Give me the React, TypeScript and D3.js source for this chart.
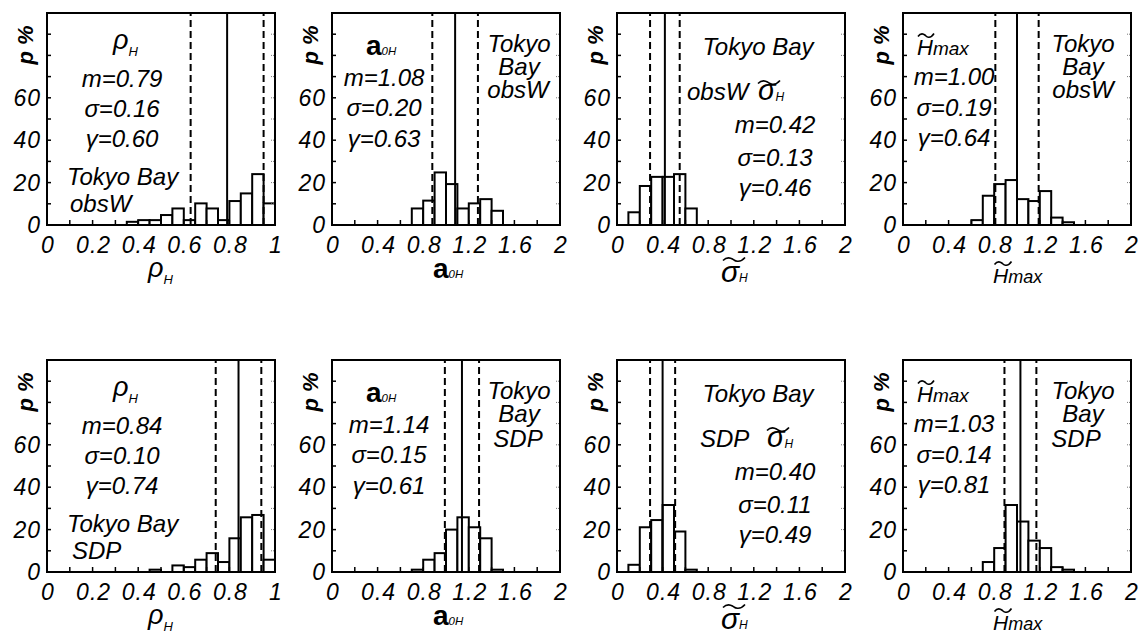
import React from 'react';
import * as d3 from 'd3';

// ---------- data ----------
const rhoObsBins = [0.35, 0.4, 0.45, 0.5, 0.55, 0.6, 0.65, 0.7, 0.75, 0.8, 0.85, 0.9, 0.95];
const rhoObsPct = [1.5, 2.3, 2.3, 4.7, 7.8, 2.3, 10.2, 7.8, 2.3, 11.3, 14.9, 24.0, 10.2];
const aObsBins = [0.7, 0.8, 0.9, 1.0, 1.1, 1.2, 1.3, 1.4];
const aObsPct = [7.8, 11.5, 24.8, 19.3, 7.8, 10.2, 12.2, 6.7];
const sigObsBins = [0.1, 0.2, 0.3, 0.4, 0.5, 0.6];
const sigObsPct = [6.0, 18.4, 22.7, 22.7, 24.0, 7.8];
const hObsBins = [0.6, 0.7, 0.8, 0.9, 1.0, 1.1, 1.2, 1.3, 1.4];
const hObsPct = [2.3, 13.8, 19.3, 21.2, 12.2, 11.3, 16.0, 3.5, 1.3];

const rhoSdpBins = [0.45, 0.5, 0.55, 0.6, 0.65, 0.7, 0.75, 0.8, 0.85, 0.9, 0.95];
const rhoSdpPct = [1.1, 0, 3.1, 2.3, 5.8, 8.9, 4.7, 15.9, 25.8, 26.9, 5.8];
const aSdpBins = [0.7, 0.8, 0.9, 1.0, 1.1, 1.2, 1.3, 1.4];
const aSdpPct = [1.1, 5.8, 8.9, 20.0, 25.8, 21.1, 15.9, 1.1];
const sigSdpBins = [0.1, 0.2, 0.3, 0.4, 0.5, 0.6];
const sigSdpPct = [3.4, 21.1, 24.5, 31.6, 19.1, 1.1];
const hSdpBins = [0.7, 0.8, 0.9, 1.0, 1.1, 1.2, 1.3, 1.4];
const hSdpPct = [4.7, 11.3, 31.6, 23.8, 14.8, 11.3, 2.3, 1.1];

// stats: mean, std, gamma
const obsM = [0.79, 1.08, 0.42, 1.0];
const obsS = [0.16, 0.2, 0.13, 0.19];
const obsG = [0.6, 0.63, 0.46, 0.64];
const sdpM = [0.84, 1.14, 0.4, 1.03];
const sdpS = [0.1, 0.15, 0.11, 0.14];
const sdpG = [0.74, 0.61, 0.49, 0.81];

const sites = ['obsW', 'SDP'];
const kinds = ['rho', 'a', 'sig', 'h'];
const xMaxes = [1, 2, 2, 2];
const binWidths = [0.05, 0.1, 0.1, 0.1];
const minorSteps = [0.1, 0.2, 0.2, 0.2];
const labelSteps = [0.2, 0.4, 0.4, 0.4];
const yTickLabels = [0, 20, 40, 60];

const binsByRow = [
  [rhoObsBins, aObsBins, sigObsBins, hObsBins],
  [rhoSdpBins, aSdpBins, sigSdpBins, hSdpBins],
];
const pctByRow = [
  [rhoObsPct, aObsPct, sigObsPct, hObsPct],
  [rhoSdpPct, aSdpPct, sigSdpPct, hSdpPct],
];
const mByRow = [obsM, sdpM];
const sByRow = [obsS, sdpS];
const gByRow = [obsG, sdpG];

// ---------- layout ----------
const W = 228;
const H = 212;
const lefts = [47, 332, 617, 903];
const tops = [13, 360];
const FONT = '"Liberation Sans", Arial, Helvetica, sans-serif';
const fmt2 = (v: number) => v.toFixed(2);
const fmtTick = (v: number) => String(+v.toFixed(1));

function tilde(cx: number, cy: number, w: number) {
  const h = w / 2;
  return `M${cx - h} ${cy + 1.5} C ${cx - h / 2} ${cy - 4}, ${cx} ${cy + 1}, ${cx} ${cy + 1} S ${cx + h / 2} ${cy + 5}, ${cx + h} ${cy - 1.5}`;
}

const T24 = { fontFamily: FONT, fontStyle: 'italic', fontSize: 24 } as const;

function Stats({ x, ys, m, s, g, anchor }: any) {
  return (
    <g style={T24} textAnchor={anchor}>
      <text x={x} y={ys[0]}>{`m=${fmt2(m)}`}</text>
      <text x={x} y={ys[1]}>{`σ=${fmt2(s)}`}</text>
      <text x={x} y={ys[2]}>{`γ=${fmt2(g)}`}</text>
    </g>
  );
}

function Panel({ row, col }: { row: number; col: number }) {
  const L = lefts[col];
  const T = tops[row];
  const xMax = xMaxes[col];
  const bw = binWidths[col];
  const bins = binsByRow[row][col];
  const pct = pctByRow[row][col];
  const m = mByRow[row][col];
  const s = sByRow[row][col];
  const g = gByRow[row][col];
  const site = sites[row];
  const kind = kinds[col];

  const x = d3.scaleLinear().domain([0, xMax]).range([L, L + W]);
  const y = d3.scaleLinear().domain([0, 100]).range([T + H, T]);

  const minor = d3.range(0, xMax + 1e-9, minorSteps[col]);
  const labels = d3.range(0, xMax + 1e-9, labelSteps[col]);
  const yMinor = d3.range(10, 100, 10);

  let annot: React.ReactNode = null;
  let xlabel: React.ReactNode = null;

  if (kind === 'rho') {
    annot = (
      <g>
        <text x={L + 66} y={T + 36} style={{ ...T24, fontSize: 27 }}>
          ρ<tspan fontSize={13} dy={7}>H</tspan>
        </text>
        <Stats x={L + 75} ys={[T + 74, T + 104, T + 134]} m={m} s={s} g={g} anchor="middle" />
        <text x={L + 20} y={T + 172} style={T24}>Tokyo Bay</text>
        <text x={L + (site === 'SDP' ? 25 : 23)} y={T + 199} style={T24}>{site}</text>
      </g>
    );
    xlabel = (
      <text x={L + 101} y={T + 264} style={{ ...T24, fontSize: 27 }}>
        ρ<tspan fontSize={13} dy={7}>H</tspan>
      </text>
    );
  } else if (kind === 'a') {
    annot = (
      <g>
        <text x={L + 34} y={T + 42} style={{ fontFamily: FONT, fontSize: 28, fontWeight: 'bold' }}>
          a<tspan fontSize={11.5} fontWeight="normal" fontStyle="italic">0H</tspan>
        </text>
        <Stats x={L + (row === 0 ? 52 : 57)} ys={[T + 73, T + 103, T + 134]} m={m} s={s} g={g} anchor="middle" />
        <g style={T24} textAnchor="middle">
          <text x={L + 187} y={T + 39}>Tokyo</text>
          <text x={L + 187} y={T + 62}>Bay</text>
          <text x={L + 186} y={T + (site === 'SDP' ? 87 : 85)}>{site}</text>
        </g>
      </g>
    );
    xlabel = (
      <text x={L + 101} y={T + 265} style={{ fontFamily: FONT, fontSize: 28, fontWeight: 'bold' }}>
        a<tspan fontSize={11.5} fontWeight="normal" fontStyle="italic">0H</tspan>
      </text>
    );
  } else if (kind === 'sig') {
    const sx = L + (site === 'SDP' ? 150 : 141);
    annot = (
      <g>
        <text x={L + 141} y={T + 42} style={T24} textAnchor="middle">Tokyo Bay</text>
        <text x={L + (site === 'SDP' ? 83 : 70)} y={T + 87} style={T24}>{site}</text>
        <text x={sx} y={T + 87} style={{ ...T24, fontSize: 29 }}>
          σ<tspan fontSize={12} dy={1}>H</tspan>
        </text>
        <path d={tilde(sx + 11, T + 69, 22)} fill="none" stroke="#000" strokeWidth={1.6} />
        <Stats x={L + 158} ys={[T + 120, T + 153, T + 183]} m={m} s={s} g={g} anchor="middle" />
      </g>
    );
    xlabel = (
      <g>
        <text x={L + 104} y={T + 269} style={{ ...T24, fontSize: 30 }}>
          σ<tspan fontSize={12}>H</tspan>
        </text>
        <path d={tilde(L + 117, T + 246, 22)} fill="none" stroke="#000" strokeWidth={1.6} />
      </g>
    );
  } else {
    annot = (
      <g>
        <text x={L + 14} y={T + 42} style={{ ...T24, fontSize: 22 }}>
          H<tspan fontSize={19}>max</tspan>
        </text>
        <path d={tilde(L + 23, T + 22, 16)} fill="none" stroke="#000" strokeWidth={1.6} />
        <Stats x={L + 51} ys={[T + 72, T + 103, T + 133]} m={m} s={s} g={g} anchor="middle" />
        <g style={T24} textAnchor="middle">
          <text x={L + 180} y={T + 39}>Tokyo</text>
          <text x={L + 180} y={T + 62}>Bay</text>
          <text x={L + (site === 'SDP' ? 173 : 180)} y={T + (site === 'SDP' ? 87 : 85)}>{site}</text>
        </g>
      </g>
    );
    xlabel = (
      <g>
        <text x={L + 90} y={T + 270} style={{ ...T24, fontSize: 21 }}>
          H<tspan fontSize={18}>max</tspan>
        </text>
        <path d={tilde(L + 100, T + 250, 17)} fill="none" stroke="#000" strokeWidth={1.6} />
      </g>
    );
  }

  return (
    <g>
      {/* bars */}
      {bins.map((b, i) =>
        pct[i] > 0 ? (
          <rect
            key={i}
            x={x(b)}
            y={y(pct[i])}
            width={x(b + bw) - x(b)}
            height={y(0) - y(pct[i])}
            fill="#fff"
            stroke="#000"
            strokeWidth={2}
          />
        ) : null
      )}
      {/* mean / +-sigma lines */}
      <line x1={x(m)} x2={x(m)} y1={y(0)} y2={y(100)} stroke="#000" strokeWidth={2} />
      {[m - s, m + s].map((v, i) => (
        <line key={i} x1={x(v)} x2={x(v)} y1={y(0)} y2={y(100)} stroke="#000" strokeWidth={2} strokeDasharray="7,4" />
      ))}
      {/* ticks */}
      {yMinor.map((v) => (
        <line key={'l' + v} x1={L} x2={L + 4} y1={y(v)} y2={y(v)} stroke="#000" strokeWidth={1.5} />
      ))}
      {yMinor.map((v) => (
        <line key={'r' + v} x1={L + W - 4} x2={L + W} y1={y(v)} y2={y(v)} stroke="#777" strokeWidth={1} strokeDasharray="1,1" />
      ))}
      {minor.map((v, i) => (
        <line key={'b' + i} x1={x(v)} x2={x(v)} y1={y(0)} y2={y(0) - 5} stroke="#000" strokeWidth={1.5} />
      ))}
      {/* frame */}
      <rect x={L} y={T} width={W} height={H} fill="none" stroke="#000" strokeWidth={2} />
      {/* tick labels */}
      <g style={{ fontFamily: FONT, fontStyle: 'italic', fontSize: 23, letterSpacing: 1 }}>
        {yTickLabels.map((v) => (
          <text key={'yl' + v} x={L - 6} y={y(v) + 8} textAnchor="end">{v}</text>
        ))}
        {labels.map((v, i) => (
          <text key={'xl' + i} x={x(v) + 1} y={T + H + 28} textAnchor="middle">{fmtTick(v)}</text>
        ))}
      </g>
      {/* y label */}
      <text
        transform={`translate(${L - 14},${T + 32}) rotate(-90)`}
        textAnchor="middle"
        style={{ fontFamily: FONT, fontStyle: 'italic', fontWeight: 'bold', fontSize: 22 }}
      >
        p %
      </text>
      {annot}
      {xlabel}
    </g>
  );
}

export default function App() {
  return (
    <svg
      width={1142}
      height={635}
      style={{ position: 'absolute', left: 0, top: 0, background: '#fff' }}
    >
      <rect x={0} y={0} width={1142} height={635} fill="#fff" />
      {[0, 1].map((row) => [0, 1, 2, 3].map((col) => <Panel key={`${row}-${col}`} row={row} col={col} />))}
    </svg>
  );
}
